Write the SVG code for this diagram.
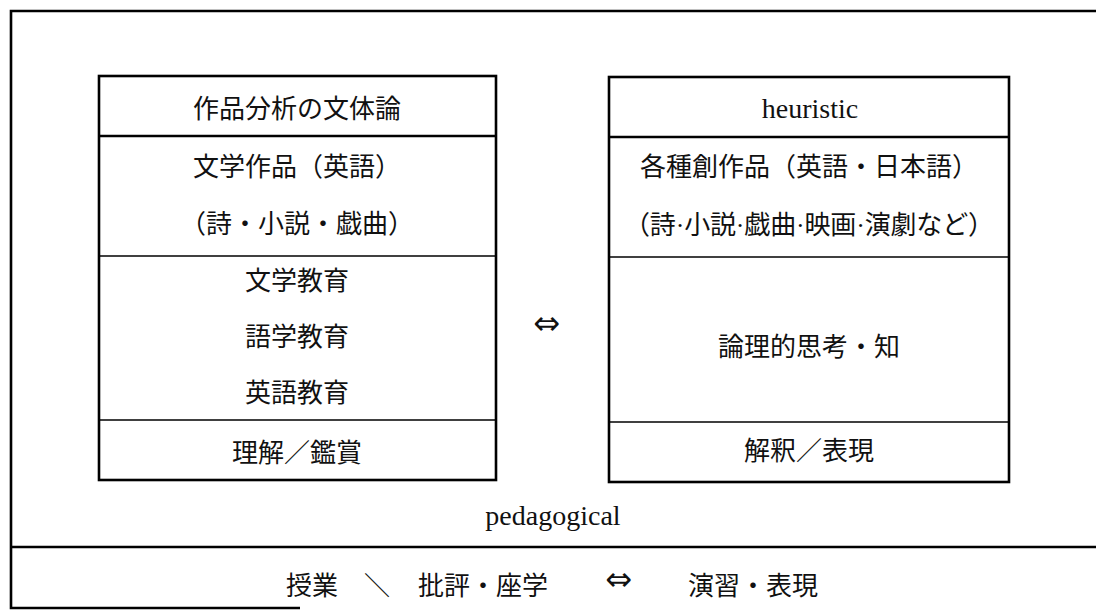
<svg xmlns="http://www.w3.org/2000/svg" width="1096" height="610" viewBox="0 0 1096 610">
<style>
.bg{fill:#fff}
.frame{fill:none;stroke:#000;stroke-width:2.6}
.box{fill:none;stroke:#000;stroke-width:2.6}
.div{stroke:#000;stroke-width:1.6}
.div2{stroke:#000;stroke-width:2.6}
.t{font-family:"Liberation Serif","Noto Sans CJK JP",serif;font-size:26px;fill:#111;text-anchor:middle;dominant-baseline:central}
.lt{font-family:"Liberation Serif",serif;font-size:28px;fill:#111;text-anchor:middle}
.sym{font-family:"DejaVu Sans",sans-serif;font-size:32px;fill:#111;text-anchor:middle;dominant-baseline:central}
</style>
<rect class="bg" x="0" y="0" width="1096" height="610"/>
<g id="frame">
<path class="frame" d="M1096,11 H11 V608 H300"/>
<line class="frame" x1="11" y1="547" x2="1096" y2="547"/>
</g>
<g id="left-box">
<rect class="box" x="99" y="76" width="397" height="404"/>
<line class="div2" x1="99" y1="136" x2="496" y2="136"/>
<line class="div" x1="99" y1="256" x2="496" y2="256"/>
<line class="div" x1="99" y1="420" x2="496" y2="420"/>
<text class="t" x="297" y="109">作品分析の文体論</text>
<text class="t" x="297" y="167">文学作品（英語）</text>
<text class="t" x="297" y="224">（詩・小説・戯曲）</text>
<text class="t" x="297" y="281">文学教育</text>
<text class="t" x="297" y="337">語学教育</text>
<text class="t" x="297" y="393">英語教育</text>
<text class="t" x="297" y="453">理解／鑑賞</text>
</g>
<g id="right-box">
<rect class="box" x="609" y="77" width="400" height="405"/>
<line class="div2" x1="609" y1="137" x2="1009" y2="137"/>
<line class="div" x1="609" y1="257" x2="1009" y2="257"/>
<line class="div" x1="609" y1="422" x2="1009" y2="422"/>
<text class="lt" x="810" y="118">heuristic</text>
<text class="t" x="809" y="167">各種創作品（英語・日本語）</text>
<text class="t" x="809" y="225" textLength="370" lengthAdjust="spacing">（詩·小説·戯曲·映画·演劇など）</text>
<text class="t" x="809" y="347">論理的思考・知</text>
<text class="t" x="809" y="451">解釈／表現</text>
</g>
<g id="connectors">
<text class="sym" x="547" y="323">⇔</text>
</g>
<g id="pedagogical">
<text class="lt" x="553" y="525">pedagogical</text>
</g>
<g id="bottom-row">
<text class="t" x="312" y="586">授業</text>
<text class="t" x="377" y="586">＼</text>
<text class="t" x="483" y="586">批評・座学</text>
<text class="sym" x="619" y="579">⇔</text>
<text class="t" x="753" y="586">演習・表現</text>
</g>
</svg>
